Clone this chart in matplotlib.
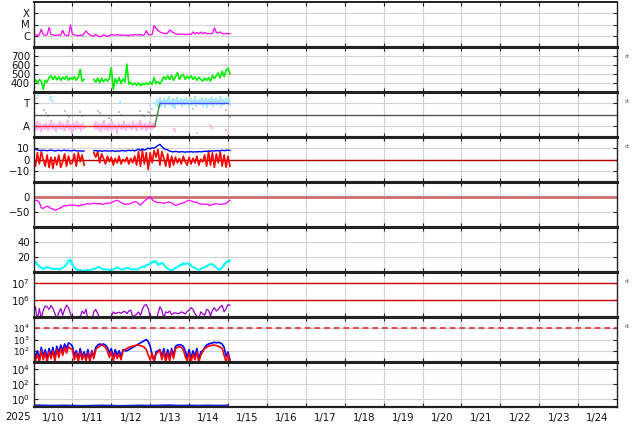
import numpy as np
import matplotlib
matplotlib.use("Agg")
import matplotlib.pyplot as plt

# ---- data (days of Jan 2025, samples every 0.05 day from Jan 10 00:00) ----
t0 = 10.0
dt = 0.05
nan = np.nan

xray = [1.3e-6, 1.2e-6, 1.1e-6, 1.2e-6, 3.8e-6, 1.3e-6, 1.1e-6, 1.2e-6, 5.5e-6, 1.3e-6,
        1.2e-6, 1.1e-6, 1.1e-6, 1.2e-6, 1.1e-6, 3.0e-6, 1.2e-6, 1.1e-6, 1.0e-6, 9.0e-6,
        1.4e-6, 1.2e-6, 1.1e-6, 1.0e-6, 1.1e-6, 1.0e-6, 1.6e-6, 2.6e-6, 1.6e-6, 1.2e-6,
        1.0e-6, 0.9e-6, 1.4e-6, 0.9e-6, 0.85e-6, 0.85e-6, 1.2e-6, 1.0e-6, 0.9e-6, 1.0e-6,
        1.3e-6, 1.2e-6, 1.1e-6, 1.3e-6, 1.2e-6, 1.1e-6, 1.2e-6, 1.1e-6, 1.1e-6, 1.0e-6,
        1.2e-6, 1.1e-6, 1.3e-6, 1.2e-6, 1.2e-6, 1.3e-6, 1.1e-6, 1.2e-6, 2.8e-6, 1.3e-6,
        1.2e-6, 1.3e-6, 8.0e-6, 4.5e-6, 3.0e-6, 2.2e-6, 1.8e-6, 1.7e-6, 1.5e-6, 1.8e-6,
        3.2e-6, 2.4e-6, 1.8e-6, 1.5e-6, 1.4e-6, 1.4e-6, 1.3e-6, 1.4e-6, 1.3e-6, 1.3e-6,
        1.4e-6, 1.3e-6, 2.2e-6, 1.5e-6, 2.0e-6, 1.5e-6, 2.1e-6, 1.5e-6, 2.0e-6, 1.5e-6,
        1.6e-6, 1.5e-6, 1.6e-6, 5.0e-6, 2.0e-6, 1.7e-6, 2.2e-6, 1.6e-6, 1.5e-6, 1.5e-6,
        1.6e-6, 1.5e-6]

speed = [410, 435, 400, 440, 420, 330, 430, 410, 460, 480,
         440, 475, 435, 470, 430, 465, 440, 475, 430, 460,
         440, 470, 430, 460, 550, 420, 440, nan, nan, nan,
         nan, 440, 410, 455, 405, 450, 415, 445, 420, 450,
         570, 330, 450, 400, 460, 395, 445, 410, 610, 390,
         405, 380, 400, 375, 400, 370, 395, 380, 400, 385,
         410, 385, 460, 395, 415, 390, 425, 470, 440, 480,
         440, 485, 430, 470, 515, 440, 480, 495, 440, 475,
         450, 480, 440, 470, 430, 465, 440, 420, 455, 430,
         460, 420, 485, 450, 480, 510, 455, 530, 470, 540,
         565, 500]

bt = [9.5, 9.0, 8.5, 8.2, 8.0, 8.3, 8.0, 7.8, 8.1, 8.4,
      8.0, 7.6, 7.9, 8.2, 7.7, 8.0, 8.3, 7.8, 8.1, 7.6,
      7.9, 8.2, 7.7, 7.5, 7.8, 7.4, 7.6, nan, nan, nan,
      nan, 7.8, 8.0, 7.5, 7.9, 7.3, 7.6, 7.8, 7.4, 7.7,
      7.5, 7.9, 7.2, 7.6, 7.4, 7.8, 8.0, 7.5, 7.9, 8.2,
      7.8, 8.3, 7.6, 8.5, 9.2, 8.0, 9.5, 8.4, 9.0, 10.2,
      9.4, 10.5, 10.0, 11.2, 12.5, 13.5, 11.5, 9.8, 9.0, 8.5,
      7.5, 7.0, 6.8, 7.2, 6.9, 6.6, 7.0, 6.8, 6.5, 6.9,
      6.7, 7.0, 6.6, 6.9, 6.7, 7.1, 6.8, 7.0, 7.4, 7.2,
      7.6, 7.3, 7.8, 7.5, 8.0, 7.6, 7.9, 8.2, 7.8, 8.1,
      8.3, 8.0]

bz = [3, -6, 6, -4, 7, 0, -6, 4, -7, 2,
      -8, 2, -5, 4, -7, -2, 5, -6, 3, -4,
      -3, 5, -6, 6, -2, 4, -5, nan, nan, nan,
      nan, 6, 2, 7, -3, 5, 1, -4, 3, -2,
      2, -5, 1, -3, 3, -4, 0, -2, 2, -4,
      1, -3, 3, -5, 7, -6, 8, -4, 6, -9,
      6, -3, 8, 2, 9, -5, 7, 1, -6, 5,
      -7, 3, -5, 2, -3, 1, -4, 3, -2, -5,
      2, -4, 1, -3, 3, -5, 0, -2, 4, -6,
      7, -5, 6, -7, 5, -3, 7, -6, 4, -7,
      3, -6]

dst = [-11, -11, -12, -18, -36, -38, -33, -31, -33, -39,
       -40, -44, -42, -39, -36, -31, -29, -30, -27, -27,
       -28, -26, -29, -30, -28, -25, -26, -23, -22, -24,
       -22, -21, -22, -23, -21, -24, -24, -22, -20, -21,
       -19, -15, -13, -11, -14, -19, -22, -24, -23, -24,
       -21, -18, -16, -17, -22, -27, -20, -14, -8, -3,
       0, -8, -15, -16, -19, -18, -20, -21, -19, -18,
       -17, -20, -24, -28, -26, -23, -21, -20, -17, -13,
       -11, -13, -15, -17, -17, -22, -24, -23, -24, -24,
       -26, -28, -25, -23, -22, -24, -25, -24, -23, -22,
       -16, -11]

dens_a = [15, 12, 9, 7, 5, 3.5, 5, 5.5, 6.5, 5,
          3.5, 4.5, 4, 3, 3.5, 5, 7, 9, 16, 14,
          9, 5, 3, 2.5, 2, 2, 2, 1.5, 2, 2.5,
          3, 3.5, 4, 6, 7, 4, 3, 3.5, 3, 3,
          2.5, 3, 5, 6, 4, 3.5, 3, 4, 5, 6,
          4, 3.5, 3, 3.5, 4, 5, 7, 6, 9, 10,
          11, 12, 15, 13, 9, 11, 12, 9, 6, 4,
          3, 2, 3, 5, 6, 8, 9, 10, 11, 12,
          10, 8, 6.5, 5, 3.5, 3, 3.5, 5, 6, 7,
          9, 10, 11, 8, 5, 4, 3, 5, 9, 12,
          13, 14]

dens_b = [13, 14, 11, 8, 6, 4.5, 6, 7, 5.5, 4,
          5, 3.5, 5, 4, 4.5, 6, 8, 11, 14, 17,
          11, 7, 4, 3, 3, 2.5, 1.5, 2.5, 3, 2,
          4, 4.5, 5, 7, 6, 5, 4, 3, 4, 2.5,
          3.5, 4, 4, 7, 5, 3, 4, 5, 6, 5,
          3, 4.5, 4, 3, 5, 6, 8, 7, 10, 9,
          12, 14, 13, 15, 11, 10, 13, 10, 7, 5,
          2.5, 3, 4, 6, 7, 9, 10, 12, 10, 11,
          12, 9, 7, 6, 4.5, 2.5, 4.5, 6, 7, 8,
          10, 11, 9, 9, 6, 3, 4, 7, 11, 13,
          15, 16]

elec_log = [5.3, 5.6, 4.8, 5.5, 4.9, 5.4, 5.65, 5.6, 5.45, 5.68,
            5.5, 5.2, 4.9, 5.25, 5.5, 5.1, 5.45, 5.69, 5.55, 5.2,
            4.9, 4.8, 4.8, 4.9, 5.0, 5.35, 5.2, 5.45, 4.8, 4.8,
            4.8, 5.3, 5.45, 5.2, 4.95, 4.8, 4.8, 4.8, 4.8, 4.8,
            5.05, 5.3, 5.2, 5.25, 5.28, 5.22, 5.3, 5.33, 5.2, 5.35,
            5.4, 5.0, 5.1, 5.15, 5.3, 5.1, 5.45, 5.69, 5.73, 5.5,
            5.0, 4.8, 4.8, 4.8, 5.2, 5.6, 5.4, 4.95, 5.3, 5.25,
            5.35, 5.15, 5.22, 5.25, 5.2, 5.22, 5.3, 5.25, 5.18, 5.32,
            5.4, 5.55, 5.45, 5.2, 5.05, 4.9, 5.3, 5.2, 5.1, 5.45,
            5.4, 5.05, 5.4, 5.55, 5.35, 5.45, 5.6, 5.69, 5.3, 5.5,
            5.73, 5.69]

prot_blue_log = [2.2, 1.4, 2.0, 1.2, 2.3, 1.5, 2.1, 1.3, 2.2, 1.6,
                 2.3, 1.4, 2.4, 1.8, 2.5, 2.0, 2.6, 2.2, 2.7, 2.6,
                 2.4, 1.6, 2.0, 1.3, 2.2, 1.5, 1.9, 1.4, 2.1, 1.2,
                 2.0, 1.5, 2.3, 2.5, 2.6, 2.55, 2.6, 2.5, 2.3, 1.8,
                 2.2, 1.4, 2.1, 1.6, 2.0, 1.5, 2.1, 2.0, 2.0, 2.1,
                 2.2, 2.3, 2.4, 2.5, 2.6, 2.7, 2.8, 2.9, 3.0, 2.8,
                 2.4, 1.6, 1.1, 1.9, 2.0, 2.1, 1.5, 2.2, 1.3, 2.1,
                 1.4, 2.2, 1.6, 2.4, 2.5, 2.55, 2.5, 2.4, 2.0, 1.4,
                 2.1, 1.3, 2.0, 1.5, 2.2, 1.2, 1.9, 2.0, 2.3, 2.5,
                 2.6, 2.65, 2.7, 2.75, 2.7, 2.75, 2.7, 2.6, 2.3, 1.5,
                 1.9, 1.2]

prot_red_log = [1.9, 1.1, 1.7, 1.0, 2.0, 1.2, 1.8, 1.0, 1.9, 1.3,
                2.0, 1.1, 2.1, 1.4, 2.2, 1.6, 2.3, 1.8, 2.35, 2.2,
                2.1, 1.2, 1.8, 1.0, 1.9, 1.2, 1.7, 1.1, 1.8, 1.0,
                1.9, 1.3, 2.1, 2.3, 2.4, 2.5, 2.45, 2.3, 2.0, 1.4,
                1.9, 1.1, 1.8, 1.3, 1.7, 1.2, 2.0, 2.1, 2.2, 2.3,
                2.35, 2.4, 2.45, 2.5, 2.5, 2.45, 2.4, 2.3, 2.1, 1.6,
                1.2, 1.8, 1.0, 1.7, 1.9, 2.0, 1.2, 1.9, 1.0, 1.8,
                1.1, 2.0, 1.3, 2.2, 2.3, 2.35, 2.3, 2.1, 1.5, 1.1,
                1.8, 1.0, 1.7, 1.2, 1.9, 1.0, 1.6, 1.9, 2.2, 2.3,
                2.4, 2.45, 2.5, 2.5, 2.45, 2.4, 2.3, 2.2, 1.6, 1.0,
                1.7, 1.0]

# panel 9, every 0.25 day
hi_energy = [0.17, 0.16, 0.15, 0.16, 0.15, 0.14, 0.15, 0.16, 0.15, 0.14, 0.15,
             0.16, 0.15, 0.16, 0.17, 0.15, 0.16, 0.15, 0.16, 0.15, 0.16]

# IMF sector panel: away (pink) samples every 0.025 day from Jan 10, toward (cyan) from Jan 13.15
phi_away = [-1.2, -0.9, -1.4, -1.0, -0.7, -1.3, -1.1, -0.8, -1.5, -1.0, -1.2, -0.9, -1.3, -0.8,
            -1.1, -1.4, -0.9, -1.2, -0.6, -1.0, -1.3, -0.8, -1.1, -1.5, -0.9, -1.2, -1.0, -0.7,
            -1.3, -1.0, -0.8, -1.2, -1.4, -0.9, -1.1, -0.6, -1.0, -1.3, -0.9, -1.2, -1.6, -1.0,
            -0.8, -1.1, -1.3, -0.7, -1.0, -1.2, -0.9, -1.4, -1.0, -0.8, -1.2, -1.1,
            nan, nan, nan, nan, nan, nan, nan, nan,
            -0.9, -1.2, -0.7, -1.1, -1.3, -0.8, -1.0, -1.5, -0.9, -1.2, -0.6, -1.1, -1.3, -0.9,
            -1.0, -1.4, -0.8, -1.2, -1.0, -0.7, -1.3, -1.1, -0.9, -1.2, -1.6, -1.0, -0.8, -1.1,
            -1.3, -0.9, -1.2, -0.7, -1.0, -1.4, -0.9, -1.1, -0.8, -1.2, -1.0, -1.3, -0.7, -1.1,
            -0.9, -1.2, -1.4, -0.8, -1.0, -1.1, -0.6, -1.3, -0.9, -1.2, -1.0, -0.8, -1.4, -1.1,
            -0.9, -1.2, -0.7, -1.0, -1.3, -0.8, -1.1, -0.9]
phi_toward = [0.9, 1.3, 0.7, 1.1, 1.5, 0.8, 1.2, 1.0, 1.4, 0.7, 1.1, 1.3, 0.9, 1.6,
              1.0, 1.2, 0.8, 1.4, 1.1, 0.6, 1.3, 1.0, 1.5, 0.9, 1.2, 1.0, 1.4, 0.8,
              1.1, 1.3, 0.9, 1.5, 1.0, 1.2, 0.7, 1.1, 1.4, 0.9, 1.2, 1.0, 1.6, 0.8,
              1.2, 1.0, 1.3, 0.9, 1.1, 1.5, 0.8, 1.2, 1.0, 1.4, 0.7, 1.1, 1.3, 0.9,
              1.2, 1.5, 1.0, 0.8, 1.3, 1.1, 1.4, 0.9, 1.2, 1.0, 1.6, 0.8, 1.1, 1.3,
              0.9, 1.2, 1.4, 1.0, 1.1, 1.5, 0.9]
extra_cyan_t = [10.10, 10.12, 10.40, 10.42, 10.45, 10.47, 12.23, 13.00, 13.05, 13.10]
extra_cyan_v = [1.5, 1.7, 1.8, 1.4, 1.6, 1.2, 1.1, 0.8, 0.5, 1.0]
extra_pink_t = [13.60, 13.65, 14.20, 14.55, 14.60, 14.95, 15.00]
extra_pink_v = [-1.3, -1.5, -1.6, -0.9, -1.2, -1.4, -1.7]
grey_t = [10.27, 10.32, 10.36, 10.80, 10.85, 10.90, 11.20, 11.25, 11.65, 11.70, 11.95, 12.00,
          12.20, 12.25, 12.75, 12.80, 12.85, 12.95, 13.00, 13.05, 14.10, 14.95, 15.00, 15.05]
grey_v = [0.4, 0.1, -0.1, 0.3, 0.0, -0.2, 0.2, -0.1, 0.35, 0.1, -0.3, -0.5,
          0.2, -0.05, 0.35, 0.0, -0.1, 0.2, 0.1, -0.1, 0.5, 0.4, 0.0, -0.2]
sector_t = [10.0, 13.12, 13.25, 15.0]
sector_v = [-1, -1, 1, 1]
sector_colors = ['#e83030', '#3a8a3a', '#4a4aff']

day_labels = [f"1/{d}" for d in range(10, 25)]

# ---- layout ----
W, H = 634, 424
fig = plt.figure(figsize=(W / 100, H / 100), dpi=100)
tops = [2, 47, 92, 137, 182, 227, 272, 317, 362]
left_px, right_px, ph = 33.5, 617, 45
FS = 7.3

t = t0 + dt * np.arange(len(xray))
t_fine = t0 + 0.025 * np.arange(len(phi_away))
t_tow = 13.15 + 0.025 * np.arange(len(phi_toward))
t9 = t0 + 0.25 * np.arange(len(hi_energy))

axes = []
for k, top in enumerate(tops):
    ax = fig.add_axes([left_px / W, 1 - (top + ph) / H, (right_px - left_px) / W, ph / H])
    ax.set_xlim(10, 25)
    ax.grid(True, axis='both', color='#d2d2d2', lw=0.8)
    ax.set_axisbelow(True)
    ax.tick_params(which='major', direction='in', length=3, width=0.8, top=True, right=True,
                   labelsize=FS, pad=2.5, colors='#222222', labelcolor='#111111')
    for s in ['left', 'right']:
        ax.spines[s].set_linewidth(1.0)
        ax.spines[s].set_color('#222222')
    for s in ['top', 'bottom']:
        ax.spines[s].set_linewidth(2.2)
        ax.spines[s].set_color('#222222')
    axes.append(ax)
axes[0].spines['top'].set_linewidth(1.4)
axes[-1].spines['bottom'].set_linewidth(1.6)

# 1 X-ray
ax = axes[0]
ax.set_yscale('log')
ax.set_ylim(1e-7, 1e-3)
ax.plot(t, xray, color='#ff00ff', lw=0.9)
ax.set_yticks([1e-6, 1e-5, 1e-4])
ax.set_yticklabels(['C', 'M', 'X'])
ax.minorticks_off()

# 2 speed
ax = axes[1]
ax.set_ylim(300, 800)
ax.plot(t, speed, color='#00ee00', lw=1.2)
ax.set_yticks([400, 500, 600, 700])

# 3 sector
ax = axes[2]
ax.set_ylim(-2, 2)
ax.plot(grey_t, grey_v, 's', color='#c4c4c4', ms=1.8, mew=0)
ax.plot(t_fine, phi_away, color='#ffb3f2', lw=1.3, marker='s', ms=1.6, mew=0)
ax.plot(extra_pink_t, extra_pink_v, 's', color='#ffb3f2', ms=1.8, mew=0)
ax.plot(t_tow, phi_toward, color='#a8e6ff', lw=1.3, marker='s', ms=1.6, mew=0)
ax.plot(extra_cyan_t, extra_cyan_v, 's', color='#a8e6ff', ms=1.8, mew=0)
ax.axhline(0, color='#555555', lw=1.0)
for k in range(len(sector_colors)):
    ax.plot(sector_t[k:k + 2], sector_v[k:k + 2], color=sector_colors[k], lw=1.0)
ax.set_yticks([-1, 1])
ax.set_yticklabels(['A', 'T'])

# 4 Bt / Bz
ax = axes[3]
ax.set_ylim(-20, 20)
ax.axhline(0, color='#b00000', lw=1.0)
ax.plot(t, bz, color='#ff0000', lw=1.2)
ax.plot(t, bt, color='#0000ff', lw=1.0)
ax.set_yticks([-10, 0, 10])
ax.set_yticklabels(['\u221210', '0', '10'])

# 5 Dst
ax = axes[4]
ax.set_ylim(-100, 50)
ax.axhline(0, color='#cc6e6e', lw=2.0)
ax.plot(t, dst, color='#ff00ff', lw=0.9)
ax.set_yticks([-50, 0])
ax.set_yticklabels(['\u221250', '0'])

# 6 density
ax = axes[5]
ax.set_ylim(0, 60)
ax.plot(t, dens_a, color='#00ffff', lw=1.0)
ax.plot(t, dens_b, color='#00ffff', lw=1.0)
ax.set_yticks([20, 40])

# 7 electrons
ax = axes[6]
ax.set_yscale('log')
ax.set_ylim(1e5, 10 ** 7.65)
ax.axhline(1e7, color='#cc0000', lw=1.0)
ax.axhline(1e6, color='#cc0000', lw=1.0)
ax.plot(t, 10 ** np.array(elec_log), color='#9900cc', lw=0.9)
ax.set_yticks([1e6, 1e7])
ax.set_yticklabels(['$10^{6}$', '$10^{7}$'])
ax.minorticks_off()
ax.grid(False, axis='y')

# 8 protons
ax = axes[7]
ax.set_yscale('log')
ax.set_ylim(10, 1e5)
ax.axhline(1e4, color='#dd3333', lw=1.2, ls=(0, (3.5, 2.3)))
ax.plot(t, 10 ** np.array(prot_blue_log), color='#0000ff', lw=1.2)
ax.plot(t, 10 ** np.array(prot_red_log), color='#ff0000', lw=1.2)
ax.set_yticks([1e2, 1e3, 1e4])
ax.set_yticklabels(['$10^{2}$', '$10^{3}$', '$10^{4}$'])
ax.tick_params(axis='y', labelsize=6.4)
ax.minorticks_off()

# 9 high energy
ax = axes[8]
ax.set_yscale('log')
ax.set_ylim(0.1, 10 ** 4.9)
ax.plot(t9, hi_energy, color='#2020e0', lw=1.4)
ax.set_yticks([1e0, 1e2, 1e4])
ax.set_yticklabels(['$10^{0}$', '$10^{2}$', '$10^{4}$'])
ax.minorticks_off()

for ax in axes:
    ax.set_xlim(10, 25)
    ax.set_xticks(np.arange(11, 25))
    ax.set_xticklabels([])

# bottom day labels at noon
ax = axes[8]
ax.set_xticks(np.arange(10.5, 25, 1), minor=True)
ax.set_xticklabels(day_labels, minor=True)
ax.tick_params(axis='x', which='minor', length=0, labelsize=FS, pad=4, labelcolor='#111111')
ax.tick_params(axis='y', which='minor', length=0)
fig.text(18 / W, 1 - 416.5 / H, '2025', fontsize=FS, ha='center', va='center', color='#111111')

for k in [1, 2, 3, 6, 7]:
    axes[k].text(1.013, 0.78, 'rt', transform=axes[k].transAxes, fontsize=4.5,
                 color='#555555', ha='left', va='center')

fig.savefig('out.png', dpi=100)
